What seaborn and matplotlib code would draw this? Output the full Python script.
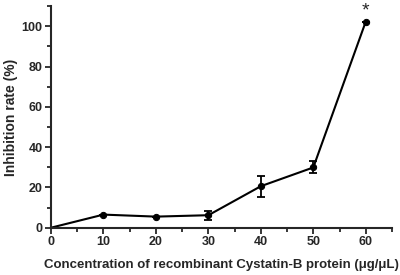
import pandas as pd
import matplotlib.pyplot as plt
import seaborn as sns
from matplotlib.ticker import MultipleLocator

concentration = [0, 10, 20, 30, 40, 50, 60]
inhibition = [0, 6.5, 5.5, 6.2, 20.6, 29.9, 102.3]
error = [0, 0, 0, 2.2, 5.3, 3.0, 0]

sns.set_style("ticks")
plt.rcParams['font.family'] = ['Liberation Sans', 'DejaVu Sans']
plt.rcParams['font.weight'] = 'bold'

df = pd.DataFrame({"conc": concentration, "inh": inhibition})

fig = plt.figure(figsize=(4, 2.75), dpi=100)
ax = fig.add_axes([0.1275, 0.172, 0.8525, 0.806])

sns.lineplot(data=df, x="conc", y="inh", color="black", linewidth=1.5,
             marker="o", markersize=4.5, markeredgecolor="black",
             markevery=list(range(1, 7)), ax=ax, clip_on=False)
ax.errorbar(concentration[1:], inhibition[1:], yerr=error[1:], fmt="none",
            ecolor="black", elinewidth=1.3, capsize=3, capthick=1.3)

# significance mark
ax.text(60, 103.5, "*", ha="center", va="bottom", fontsize=14, fontweight="normal")

ax.set_xlim(0, 65)
ax.set_ylim(0, 110)
ax.xaxis.set_major_locator(MultipleLocator(10))
ax.xaxis.set_minor_locator(MultipleLocator(5))
ax.yaxis.set_major_locator(MultipleLocator(20))
ax.yaxis.set_minor_locator(MultipleLocator(10))
ax.set_xticks([0, 10, 20, 30, 40, 50, 60])

ax.tick_params(which="major", length=4, width=1.3, labelsize=9, pad=2)
ax.tick_params(which="minor", length=3, width=1.3)
for t in ax.get_xticklabels() + ax.get_yticklabels():
    t.set_fontweight("bold")

for side in ["top", "right"]:
    ax.spines[side].set_visible(False)
for side in ["left", "bottom"]:
    ax.spines[side].set_linewidth(1.5)

ax.set_xlabel("Concentration of recombinant Cystatin-B protein (\u03bcg/\u03bcL)",
              fontsize=9.5, fontweight="bold", labelpad=8)
ax.set_ylabel("Inhibition rate (%)", fontsize=10, fontweight="bold", labelpad=3)

fig.savefig("out.png", dpi=100)
